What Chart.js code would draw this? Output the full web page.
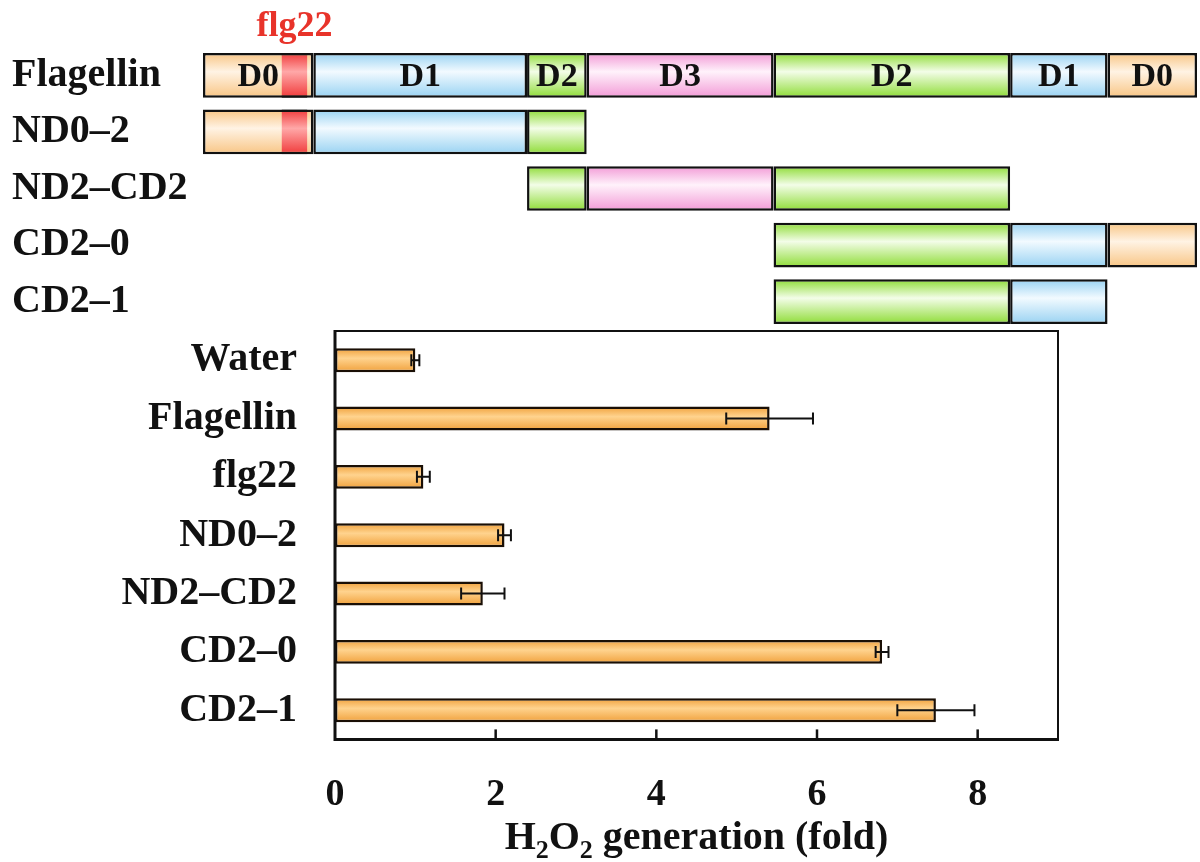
<!DOCTYPE html>
<html>
<head>
<meta charset="utf-8">
<script src="https://cdn.jsdelivr.net/npm/chart.js@4.4.1/dist/chart.umd.min.js"></script>
<style>
  html, body { margin: 0; padding: 0; background: #fff; }
  #wrap { position: relative; width: 1200px; height: 862px; }
  #domainBox { position: absolute; left: 0; top: 0; width: 1200px; height: 330px; }
  #barBox { position: absolute; left: 0; top: 330px; width: 1200px; height: 532px; }
</style>
</head>
<body>
<div id="wrap">
  <div id="domainBox"><canvas id="domainChart"></canvas></div>
  <div id="barBox"><canvas id="h2o2Chart"></canvas></div>
</div>
<script>
// Domain map of flagellin and the deletion constructs
const constructs = ['Flagellin', 'ND0–2', 'ND2–CD2', 'CD2–0', 'CD2–1'];
// segment borders along flagellin, in % of full length
const segBounds = [0, 11.1, 32.6, 38.6, 57.4, 81.2, 91.0, 100];
const segNames = ['D0', 'D1', 'D2', 'D3', 'D2', 'D1', 'D0'];
// first and last segment kept in each construct
const segFirst = [0, 0, 2, 4, 4];
const segLast = [6, 2, 4, 6, 5];
const flg22Span = [7.9, 10.5];
const flg22Rows = ['Flagellin', 'ND0–2'];

// H2O2 generation assay
const treatments = ['Water', 'Flagellin', 'flg22', 'ND0–2', 'ND2–CD2', 'CD2–0', 'CD2–1'];
const h2o2Fold = [1.00, 5.41, 1.10, 2.11, 1.84, 6.81, 7.48];
const h2o2Err = [0.05, 0.54, 0.08, 0.08, 0.27, 0.08, 0.48];
const xTicks = [0, 2, 4, 6, 8];

// colours: [edge, centre] of the shaded bars
const domainColors = {
    D0: ['#f8c584', '#fff3e4'],
    D1: ['#98d2f2', '#f2faff'],
    D2: ['#8edc36', '#f3fde8'],
    D3: ['#f29ad6', '#fff2fb'],
    flg22: ['#f03a3a', '#ffa8a8']
};
const barColors = ['#f0a03a', '#ffd38e'];

Chart.defaults.font.family = "'Liberation Serif', 'Times New Roman', serif";
Chart.defaults.color = '#111';

// vertical shading across one bar row
function stripe(chart, dataIndex, count, pct, colors) {
    const y = chart.scales.y;
    if (!y || !chart.chartArea) return colors[0];
    const yc = y.getPixelForValue(dataIndex);
    const h = (y.bottom - y.top) / count * pct;
    const g = chart.ctx.createLinearGradient(0, yc - h / 2, 0, yc + h / 2);
    g.addColorStop(0, colors[0]);
    g.addColorStop(0.42, colors[1]);
    g.addColorStop(1, colors[0]);
    return g;
}

// keep tick labels from pushing the plot area inwards
function noLabelPadding(scale) {
    scale.paddingTop = 0;
    scale.paddingBottom = 0;
    scale.paddingLeft = 0;
    scale.paddingRight = 0;
}

const domainPct = 0.79;

const segDatasets = segNames.map(function(name, s) {
    return {
        label: name,
        data: constructs.map(function(c, r) {
            return (s >= segFirst[r] && s <= segLast[r]) ? [segBounds[s], segBounds[s + 1]] : null;
        }),
        backgroundColor: ctx => stripe(ctx.chart, ctx.dataIndex, constructs.length, domainPct, domainColors[name]),
        borderColor: '#111',
        borderWidth: 2.5,
        borderSkipped: false,
        grouped: false,
        barPercentage: domainPct,
        categoryPercentage: 1
    };
});

const flgDataset = {
    label: 'flg22',
    data: constructs.map(c => flg22Rows.includes(c) ? flg22Span : null),
    backgroundColor: ctx => stripe(ctx.chart, ctx.dataIndex, constructs.length, domainPct, domainColors.flg22),
    borderColor: '#111',
    borderWidth: { top: 2.5, bottom: 2.5, left: 0, right: 0 },
    borderSkipped: false,
    grouped: false,
    barPercentage: domainPct,
    categoryPercentage: 1
};

// domain names on the full flagellin row, plus the flg22 mark
const domainText = {
    id: 'domainText',
    afterDatasetsDraw(chart) {
        const ctx = chart.ctx;
        ctx.save();
        ctx.font = "bold 34px 'Liberation Serif'";
        ctx.fillStyle = '#111';
        ctx.textAlign = 'center';
        ctx.textBaseline = 'middle';
        segNames.forEach(function(name, s) {
            const el = chart.getDatasetMeta(s + 1).data[0];
            ctx.fillText(name, (el.x + el.base) / 2, el.y + 2);
        });
        const f = chart.getDatasetMeta(0).data[0];
        ctx.fillStyle = '#e8332a';
        ctx.font = "bold 36px 'Liberation Serif'";
        ctx.textBaseline = 'alphabetic';
        ctx.fillText('flg22', (f.x + f.base) / 2, f.y - f.height / 2 - 17);
        ctx.restore();
    }
};

new Chart(document.getElementById('domainChart'), {
    type: 'bar',
    data: {
        labels: constructs,
        datasets: [flgDataset].concat(segDatasets)
    },
    options: {
        indexAxis: 'y',
        responsive: true,
        maintainAspectRatio: false,
        animation: false,
        events: [],
        layout: { padding: { left: 12, right: 3, top: 47, bottom: 0 } },
        plugins: { legend: { display: false }, tooltip: { enabled: false } },
        scales: {
            x: { display: false, min: 0, max: 100 },
            y: {
                grid: { display: false, drawTicks: false },
                border: { display: false },
                ticks: { crossAlign: 'far', padding: 0, autoSkip: false, font: { size: 40, weight: 'bold' } },
                afterFit: function(scale) { noLabelPadding(scale); scale.width = 191; }
            }
        }
    },
    plugins: [domainText]
});

// box, inward ticks, error bars and the axis title
const frameAndErrors = {
    id: 'frameAndErrors',
    afterDatasetsDraw(chart) {
        const ctx = chart.ctx;
        const a = chart.chartArea;
        const x = chart.scales.x;
        const meta = chart.getDatasetMeta(0);
        ctx.save();
        ctx.strokeStyle = '#111';
        ctx.lineWidth = 2;
        meta.data.forEach(function(bar, i) {
            const lo = x.getPixelForValue(h2o2Fold[i] - h2o2Err[i]);
            const hi = x.getPixelForValue(h2o2Fold[i] + h2o2Err[i]);
            ctx.beginPath();
            ctx.moveTo(lo, bar.y); ctx.lineTo(hi, bar.y);
            ctx.moveTo(lo, bar.y - 6); ctx.lineTo(lo, bar.y + 6);
            ctx.moveTo(hi, bar.y - 6); ctx.lineTo(hi, bar.y + 6);
            ctx.stroke();
        });
        ctx.beginPath();
        ctx.moveTo(a.left, a.top); ctx.lineTo(a.right, a.top); ctx.lineTo(a.right, a.bottom);
        ctx.stroke();
        ctx.lineWidth = 3;
        ctx.beginPath();
        ctx.moveTo(a.left, a.top - 1); ctx.lineTo(a.left, a.bottom); ctx.lineTo(a.right + 1, a.bottom);
        ctx.stroke();
        ctx.lineWidth = 2.5;
        xTicks.forEach(function(v) {
            if (v === 0) return;
            const px = x.getPixelForValue(v);
            ctx.beginPath();
            ctx.moveTo(px, a.bottom);
            ctx.lineTo(px, a.bottom - 10);
            ctx.stroke();
        });
        ctx.restore();
    },
    afterDraw(chart) {
        const ctx = chart.ctx;
        const a = chart.chartArea;
        const parts = [['H', false], ['2', true], ['O', false], ['2', true], [' generation (fold)', false]];
        const big = "bold 40px 'Liberation Serif'";
        const small = "bold 26px 'Liberation Serif'";
        ctx.save();
        ctx.fillStyle = '#111';
        ctx.textBaseline = 'alphabetic';
        ctx.textAlign = 'left';
        let total = 0;
        parts.forEach(function(p) { ctx.font = p[1] ? small : big; total += ctx.measureText(p[0]).width; });
        let px = (a.left + a.right) / 2 - total / 2;
        const base = a.bottom + 110;
        parts.forEach(function(p) {
            ctx.font = p[1] ? small : big;
            ctx.fillText(p[0], px, p[1] ? base + 9 : base);
            px += ctx.measureText(p[0]).width;
        });
        ctx.restore();
    }
};

const barPct = 0.41;

new Chart(document.getElementById('h2o2Chart'), {
    type: 'bar',
    data: {
        labels: treatments,
        datasets: [{
            label: 'H2O2 generation (fold)',
            data: h2o2Fold,
            backgroundColor: ctx => stripe(ctx.chart, ctx.dataIndex, treatments.length, barPct, barColors),
            borderColor: '#1a0f05',
            borderWidth: 2.5,
            borderSkipped: false,
            barPercentage: barPct,
            categoryPercentage: 1
        }]
    },
    options: {
        indexAxis: 'y',
        responsive: true,
        maintainAspectRatio: false,
        animation: false,
        events: [],
        layout: { padding: { left: 0, right: 142, top: 1, bottom: 11 } },
        plugins: { legend: { display: false }, tooltip: { enabled: false } },
        scales: {
            x: {
                min: 0,
                max: 9,
                grid: { display: false, drawTicks: false },
                border: { display: false },
                ticks: { padding: 33, autoSkip: false, font: { size: 38, weight: 'bold' } },
                afterBuildTicks: function(scale) { scale.ticks = xTicks.map(v => ({ value: v })); },
                afterFit: noLabelPadding
            },
            y: {
                grid: { display: false, drawTicks: false },
                border: { display: false },
                ticks: { padding: 38, autoSkip: false, font: { size: 40, weight: 'bold' } },
                afterFit: function(scale) { noLabelPadding(scale); scale.width = 335; }
            }
        }
    },
    plugins: [frameAndErrors]
});
</script>
</body>
</html>
